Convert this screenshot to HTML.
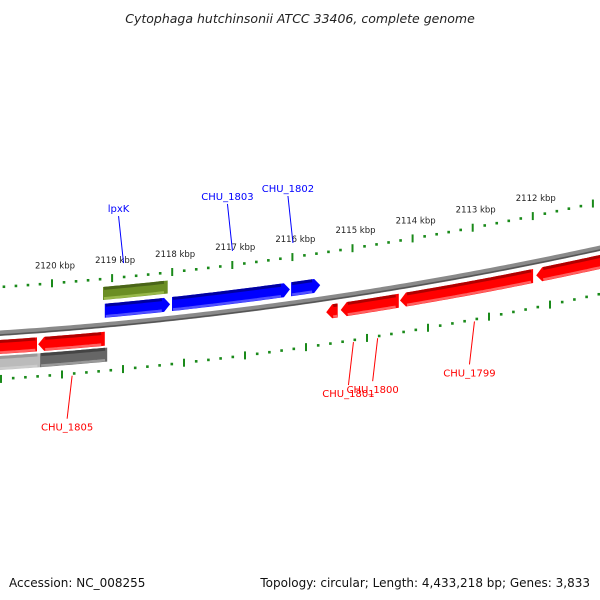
<!DOCTYPE html>
<html><head><meta charset="utf-8"><style>
body{margin:0;background:#fff;}
svg{display:block;font-family:"DejaVu Sans","Liberation Sans",sans-serif;}
</style></head><body>
<svg id="map" width="600" height="600" viewBox="0 0 600 600">
<text x="300" y="23" text-anchor="middle" font-size="12.5" font-style="italic" fill="#222">Cytophaga hutchinsonii ATCC 33406, complete genome</text>
<text x="9" y="587" font-size="12" fill="#111">Accession: NC_008255</text>
<text x="590" y="587" text-anchor="end" font-size="12" fill="#111">Topology: circular; Length: 4,433,218 bp; Genes: 3,833</text>
<g id="layer"></g>
</svg>
<script>
// data
const majorTicks = [2121, 2120, 2119, 2118, 2117, 2116, 2115, 2114, 2113, 2112, 2111];
const tickLabels = ["", "2120 kbp", "2119 kbp", "2118 kbp", "2117 kbp", "2116 kbp", "2115 kbp", "2114 kbp", "2113 kbp", "2112 kbp", ""];
const geneNames = ["red-a","red-b","gray-a","gray-b","lpxK-green","lpxK","CHU_1803","CHU_1802","red-small","CHU_1801","CHU_1800","CHU_1799"];
const geneStart = [2121.2, 2120.31, 2121.2, 2120.28, 2119.24, 2119.21, 2118.10, 2116.13, 2115.55, 2115.31, 2114.33, 2112.08];
const geneEnd   = [2120.33, 2119.21, 2120.28, 2119.17, 2118.17, 2118.13, 2116.15, 2115.65, 2115.36, 2114.35, 2112.13, 2110.4];
const geneStrand = [-1, -1, 0, 0, 2, 1, 1, 1, -1, -1, -1, -1];
const labelNames = ["lpxK","CHU_1803","CHU_1802","CHU_1805","CHU_1801","CHU_1800","CHU_1799"];
const labelKbp = [2118.9, 2117.1, 2116.1, 2119.75, 2115.1, 2114.7, 2113.1];

const NS="http://www.w3.org/2000/svg";
const layer=document.getElementById('layer');
function mk(t,a){const e=document.createElementNS(NS,t);for(const k in a)e.setAttribute(k,a[k]);layer.appendChild(e);return e;}
function curve(x){return 333-0.065*x-1.278e-4*x*x;}
function xOut(k){return 52+60.1*(2120-k);}
function xIn(k){return 62+61*(2120-k);}
function xGene(k){return 57+60.5*(2120-k);}
function slope(x){return -0.065-2*1.278e-4*x;}

// backbone
(function(){
  let top=[],bot=[];
  for(let x=-5;x<=605;x+=5){top.push(x+','+(curve(x)-2.5));bot.push(x+','+(curve(x)+3));}
  const e=mk('polygon',{points:top.concat(bot.reverse()).join(' '),fill:'#8a8a8a'});
  
  
  let l=[];for(let x=-5;x<=605;x+=5)l.push(x+','+(curve(x)+2));
  const e2=mk('polyline',{points:l.join(' '),fill:'none',stroke:'#555','stroke-width':1.5});
  
  
})();

// tick tracks
function drawTrack(xf,off,name,withLabels){
  for(let i=0;i<majorTicks.length;i++){
    for(let m=0;m<5;m++){
      const k=majorTicks[i]-m*0.2, x=xf(k); if(x<-5||x>605)continue;
      const y=curve(x)+off;
      if(m===0){
        const s=slope(x), n=Math.hypot(1,s), px=-s/n*0, dy=4;
        const t=mk('line',{x1:x-s*dy/n*(-1)*0,y1:y-dy,x2:x,y2:y+dy,stroke:'#1a8a1a','stroke-width':2});
        
        
        if(withLabels&&tickLabels[i]){
          const tx=mk('text',{x:x+3,y:y-15,'text-anchor':'middle','font-size':'8.5',fill:'#222'});
          tx.textContent=tickLabels[i];
          
          
        }
      }else{
        const d=mk('rect',{x:x-1.3,y:y-1.3,width:2.6,height:2.6,fill:'#1a8a1a'});
        
        
      }
    }
  }
}
drawTrack(xOut,-46,'outer-track',true);
drawTrack(xIn,46,'inner-track',false);

// genes
const colors={'-1':['#ff0000','#b00000','#ff6060'],'1':['#0000ff','#0000a0','#5050ff'],'2':['#6b8e23','#4a6518','#98b84a'],'0':['#666','#444','#999']};
for(let i=0;i<geneNames.length;i++){
  const s=geneStrand[i];
  let o1,o2,dir=0;
  if(s===1){o1=-21;o2=-7;dir=1;}else if(s===2){o1=-38;o2=-25;}
  else if(s===-1){o1=7;o2=21;dir=-1;}else{o1=23;o2=37;}
  const xa=xGene(geneStart[i]), xb=xGene(geneEnd[i]);
  let b1=xa,b2=xb;const head=6;
  if(dir===1)b2=xb-head; if(dir===-1)b1=xa+head;
  const mid=(o1+o2)/2;
  const pts=[];
  for(let x=b1;x<=b2;x+=4)pts.push([x,curve(x)+o1]);
  pts.push([b2,curve(b2)+o1]);
  if(dir===1)pts.push([xb,curve(xb)+mid]);
  const bp=[];
  for(let x=b1;x<=b2;x+=4)bp.push([x,curve(x)+o2]);
  bp.push([b2,curve(b2)+o2]);
  let all=pts.concat(bp.reverse());
  if(dir===-1)all.push([xa,curve(xa)+mid]);
  const c=s===0?(i===2?['#bbb','#999','#ccc']:colors['0']):colors[String(s)];
  const g=mk('polygon',{points:all.map(p=>p[0].toFixed(1)+','+p[1].toFixed(1)).join(' '),fill:c[0]});
  
  
  const tl=[];for(let x=b1+1;x<=b2;x+=4)tl.push(x.toFixed(1)+','+(curve(x)+o1+1.5).toFixed(1));
  const hl=mk('polyline',{points:tl.join(' '),fill:'none',stroke:c[1],'stroke-width':3});
  
  
  const bl=[];for(let x=b1+1;x<=b2;x+=4)bl.push(x.toFixed(1)+','+(curve(x)+o2-1.5).toFixed(1));
  const ll=mk('polyline',{points:bl.join(' '),fill:'none',stroke:c[2],'stroke-width':2.5});
  
  
}

// labels
for(let i=0;i<labelNames.length;i++){
  const x=xGene(labelKbp[i]);
  const up=i<3;
  const col=up?'#0000ff':'#ff0000';
  const y0=up?curve(x)-60:curve(x)+48;
  const len=up?47:43;
  const x1=x-5, y1=up?y0-len:y0+len;
  const l=mk('line',{x1:x,y1:y0,x2:x1,y2:y1,stroke:col,'stroke-width':1});
  
  
  const t=mk('text',{x:x1,y:up?y1-4:y1+12,'text-anchor':'middle','font-size':'10',fill:col});
  t.textContent=labelNames[i];
  
  
}
</script>
</body></html>
